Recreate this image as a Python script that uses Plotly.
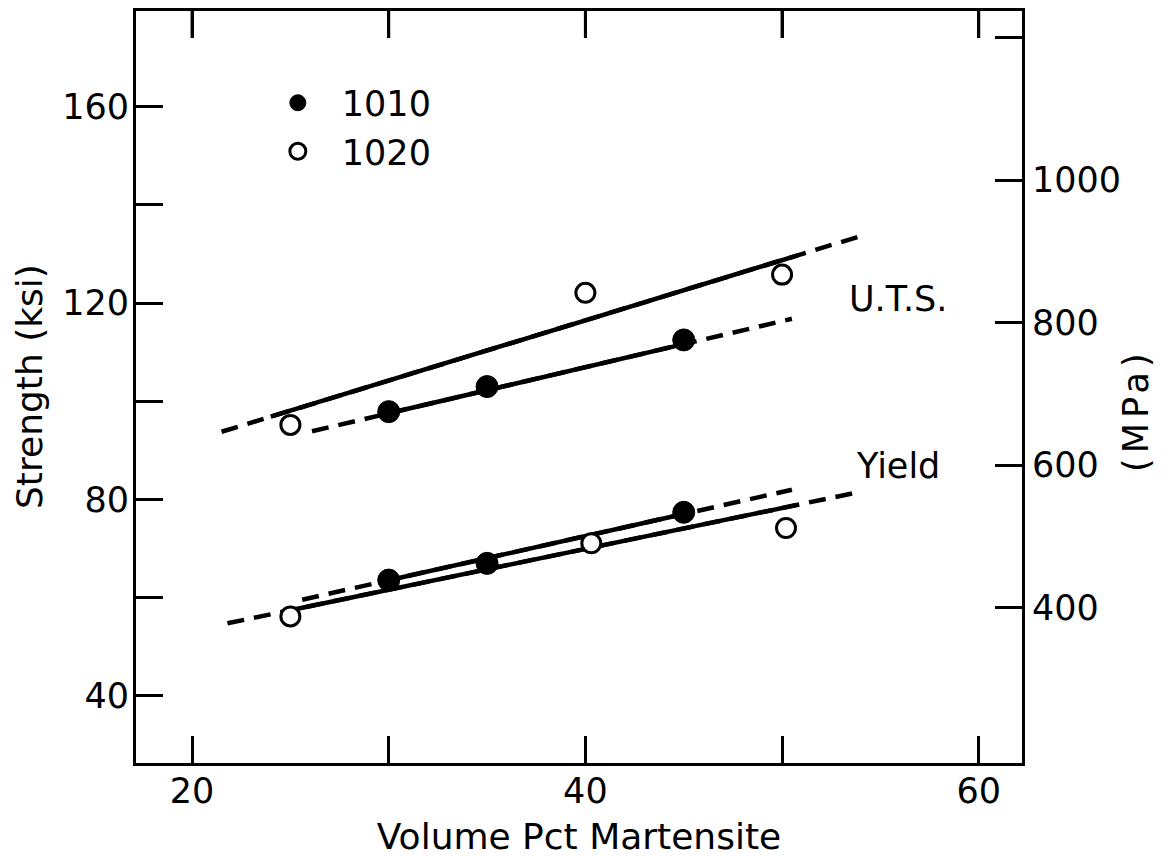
import numpy as np
import plotly.graph_objects as go

# ---------------- data ----------------
# Steel 1010 (filled symbols)
pct_1010 = [30, 35, 45]
uts_1010 = [97.9, 103.0, 112.5]
yield_1010 = [63.6, 67.0, 77.4]

# Steel 1020 (open symbols)
pct_1020_uts = [25, 40, 50]
uts_1020 = [95.2, 122.1, 125.8]
pct_1020_yield = [25, 40.3, 50.2]
yield_1020 = [56.2, 71.1, 74.2]

# Fitted trend lines: full (dashed) extent end points and solid range
fit_x_uts_1020 = [21.5, 54.2]
fit_y_uts_1020 = [93.8, 133.9]
solid_x_uts_1020 = [24.0, 50.8]

fit_x_uts_1010 = [26.1, 50.5]
fit_y_uts_1010 = [93.9, 116.8]
solid_x_uts_1010 = [30.0, 45.0]

fit_x_yield_1010 = [25.6, 50.5]
fit_y_yield_1010 = [59.6, 82.0]
solid_x_yield_1010 = [30.0, 45.0]

fit_x_yield_1020 = [21.8, 54.0]
fit_y_yield_1020 = [54.8, 81.6]
solid_x_yield_1020 = [25.0, 50.7]

# Axes
x_range = [17.15, 62.2]
ksi_range = [26.35, 179.48]
KSI_TO_MPA = 6.895
x_tickvals = [20, 30, 40, 50, 60]
x_ticktext = ["20", "", "40", "", "60"]
ksi_tickvals = [40, 60, 80, 100, 120, 140, 160]
ksi_ticktext = ["40", "", "80", "", "120", "", "160"]
mpa_tickvals = [400, 600, 800, 1000, 1200]
mpa_ticktext = ["400", "600", "800", "1000", ""]

FONT = "DejaVu Sans"
LW = 4.5
DASH = "17px,10px"
TICKLEN = 27
# the page body keeps its default 8 px margin, so margins are reduced by 8
M_L, M_R, M_T, M_B = 128, 157, 3, 101
PLOT_H = 856 - M_T - M_B

fig = go.Figure()


def add_fit(fx, fy, sx):
    fig.add_trace(go.Scatter(x=fx, y=fy, mode="lines", showlegend=False,
                             hoverinfo="skip",
                             line=dict(color="black", width=LW, dash=DASH)))
    sy = list(np.interp(sx, fx, fy))
    fig.add_trace(go.Scatter(x=sx, y=sy, mode="lines", showlegend=False,
                             hoverinfo="skip",
                             line=dict(color="black", width=LW)))


add_fit(fit_x_uts_1020, fit_y_uts_1020, solid_x_uts_1020)
add_fit(fit_x_uts_1010, fit_y_uts_1010, solid_x_uts_1010)
add_fit(fit_x_yield_1010, fit_y_yield_1010, solid_x_yield_1010)
add_fit(fit_x_yield_1020, fit_y_yield_1020, solid_x_yield_1020)

filled = dict(symbol="circle", size=22, color="black",
              line=dict(color="black", width=1))
opened = dict(symbol="circle", size=19, color="white",
              line=dict(color="black", width=3))

fig.add_trace(go.Scatter(x=pct_1010, y=uts_1010, mode="markers", name="1010",
                         legendgroup="1010", marker=filled))
fig.add_trace(go.Scatter(x=pct_1010, y=yield_1010, mode="markers", name="1010",
                         legendgroup="1010", showlegend=False, marker=filled))
fig.add_trace(go.Scatter(x=pct_1020_uts, y=uts_1020, mode="markers", name="1020",
                         legendgroup="1020", marker=opened))
fig.add_trace(go.Scatter(x=pct_1020_yield, y=yield_1020, mode="markers", name="1020",
                         legendgroup="1020", showlegend=False, marker=opened))

# same UTS data expressed in MPa on the secondary axis (invisible, keeps axis drawn)
fig.add_trace(go.Scatter(x=pct_1010, y=[v * KSI_TO_MPA for v in uts_1010],
                         yaxis="y2", mode="markers", showlegend=False,
                         hoverinfo="skip", marker=dict(opacity=0)))

# tick marks hanging from the top frame edge at the x tick values
for tv in x_tickvals:
    fig.add_shape(type="line", xref="x", yref="y domain", x0=tv, x1=tv,
                  y0=1, y1=1 - TICKLEN / PLOT_H, layer="above",
                  line=dict(color="black", width=3))

fig.add_annotation(x=55.9, y=120.9, text="U.T.S.", showarrow=False,
                   font=dict(family=FONT, size=35, color="black"))
fig.add_annotation(x=55.9, y=86.9, text="Yield", showarrow=False,
                   font=dict(family=FONT, size=35, color="black"))
# axis titles placed precisely
fig.add_annotation(xref="paper", yref="paper", x=1.1286, y=0.4694,
                   xanchor="center", yanchor="middle", textangle=-90,
                   text='<span style="letter-spacing:5px">(MPa)</span>',
                   showarrow=False, font=dict(family=FONT, size=35, color="black"))
fig.add_annotation(xref="paper", yref="paper", x=-0.1208, y=0.5013,
                   xanchor="center", yanchor="middle", textangle=-90,
                   text="Strength (ksi)",
                   showarrow=False, font=dict(family=FONT, size=36, color="black"))

axis_common = dict(showgrid=False, zeroline=False, showline=True,
                   linecolor="black", linewidth=3, ticks="inside",
                   tickwidth=3, tickcolor="black", ticklen=TICKLEN,
                   automargin=False,
                   tickfont=dict(family=FONT, size=35, color="black"))

fig.update_layout(
    width=1171, height=856, autosize=False,
    paper_bgcolor="white", plot_bgcolor="white",
    margin=dict(l=M_L, r=M_R, t=M_T, b=M_B, pad=0),
    font=dict(family=FONT, color="black"),
    showlegend=True,
    legend=dict(x=0.133, y=0.9169, xanchor="left", yanchor="top",
                bgcolor="rgba(0,0,0,0)", font=dict(family=FONT, size=35),
                tracegroupgap=0, itemwidth=78),
    xaxis=dict(range=x_range, tickmode="array", tickvals=x_tickvals,
               ticktext=x_ticktext, ticklabelstandoff=-5, mirror="ticks",
               title=dict(text="Volume Pct Martensite",
                          font=dict(family=FONT, size=36), standoff=14),
               **axis_common),
    yaxis=dict(range=ksi_range, tickmode="array", tickvals=ksi_tickvals,
               ticktext=ksi_ticktext, ticklabelstandoff=-3,
               **axis_common),
    yaxis2=dict(range=[v * KSI_TO_MPA for v in ksi_range], overlaying="y",
                side="right", anchor="x", tickmode="array", tickvals=mpa_tickvals,
                ticktext=mpa_ticktext, ticklabelstandoff=0,
                **axis_common),
)

fig.write_html("out.html", config={"displayModeBar": False})
